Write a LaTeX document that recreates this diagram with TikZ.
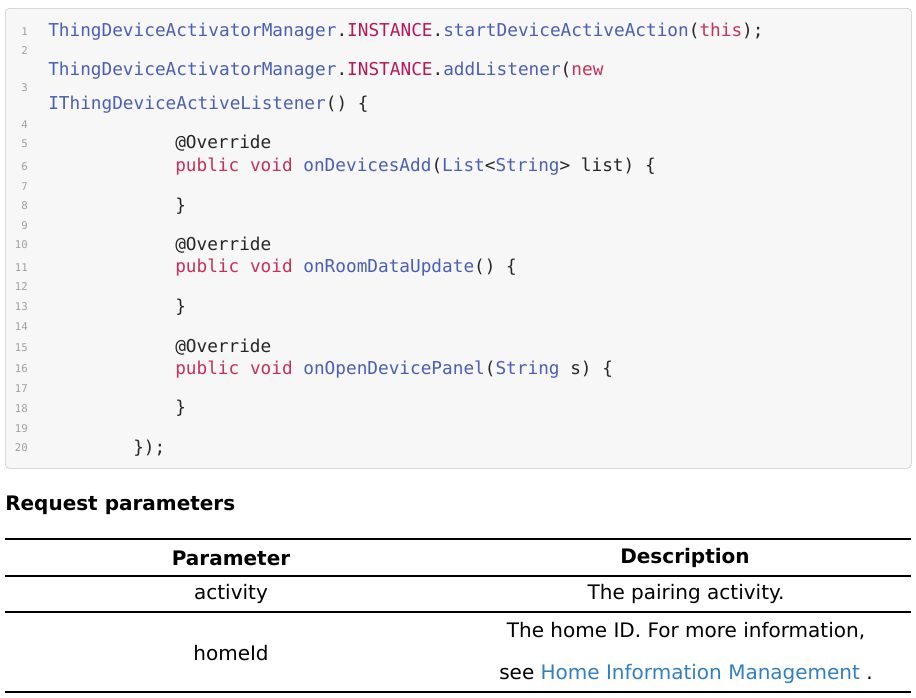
\documentclass[tikz,border=0pt]{standalone}
\usepackage{fontspec}
\setmainfont{DejaVu Sans}
\setmonofont{DejaVu Sans Mono}
\definecolor{cls}{HTML}{4B5FB5}
\definecolor{kw}{HTML}{C8305A}
\definecolor{inst}{HTML}{B8185A}
\definecolor{lnum}{HTML}{A0A0A0}
\definecolor{link}{HTML}{2F7FC1}
\newcommand{\C}[1]{\textcolor{cls}{#1}}
\newcommand{\K}[1]{\textcolor{kw}{#1}}
\newcommand{\I}[1]{\textcolor{inst}{#1}}
\begin{document}
\begin{tikzpicture}[x=0.75pt,y=-0.75pt,
  code/.style={anchor=base west,inner sep=0,font=\ttfamily\fontsize{13.3pt}{15pt}\selectfont,text=black!85},
  ln/.style={anchor=base east,inner sep=0,font=\ttfamily\fontsize{8pt}{9pt}\selectfont,text=lnum},
  tx/.style={inner sep=0,font=\fontsize{15pt}{18pt}\selectfont},
  hd/.style={inner sep=0,font=\bfseries\fontsize{15pt}{18pt}\selectfont}]
\useasboundingbox (0,0) rectangle (916,697);
\node[draw=black!22,fill=black!3,rounded corners=3pt,minimum width=906*0.75pt,minimum height=460*0.75pt,anchor=north west,inner sep=0] (box) at (5,8) {};
% line numbers
\foreach \n/\y in {1/35,2/54,3/91,4/128,5/147,6/170,7/190,8/209,9/229,10/248,11/271,12/290,13/310,14/330,15/351,16/372,17/392,18/412,19/432,20/451}
  \node[ln] (n\n) at (28,\y) {\n};
\node[code] (c1) at (48,36) {\C{ThingDeviceActivatorManager}.\I{INSTANCE}.\C{startDeviceActiveAction}(\K{this});};
\node[code] (c2) at (48,75) {\C{ThingDeviceActivatorManager}.\I{INSTANCE}.\C{addListener}(\K{new}};
\node[code] (c3) at (48,109) {\C{IThingDeviceActiveListener}() \{};
\node[code] (c5) at (175,148) {@Override};
\node[code] (c6) at (175,171) {\K{public} \K{void} \C{onDevicesAdd}(\C{List}<\C{String}> list) \{};
\node[code] (c8) at (175,211) {\}};
\node[code] (c10) at (175,250) {@Override};
\node[code] (c11) at (175,272) {\K{public} \K{void} \C{onRoomDataUpdate}() \{};
\node[code] (c13) at (175,312) {\}};
\node[code] (c15) at (175,352) {@Override};
\node[code] (c16) at (175,374) {\K{public} \K{void} \C{onOpenDevicePanel}(\C{String} s) \{};
\node[code] (c18) at (175,413) {\}};
\node[code] (c20) at (133,453) {\});};
% table
\node[hd,anchor=west] (title) at (5,505) {Request parameters};
\draw[line width=1.5pt] (5,539) -- (911,539);
\draw[line width=1.2pt] (5,576) -- (911,576);
\draw[line width=1pt] (5,612) -- (911,612);
\draw[line width=1.2pt] (5,692) -- (911,692);
\node[hd] (h1) at (231,558) {Parameter};
\node[hd] (h2) at (685,558) {Description};
\node[tx] (p1) at (231,594) {activity};
\node[tx] (d1) at (686,594) {The pairing activity.};
\node[tx] (p2) at (231,653) {homeId};
\node[tx] (d2a) at (686,631) {The home ID. For more information,};
\node[tx] (d2b) at (686,674) {see \textcolor{link}{Home Information Management} .};
\end{tikzpicture}
\end{document}
